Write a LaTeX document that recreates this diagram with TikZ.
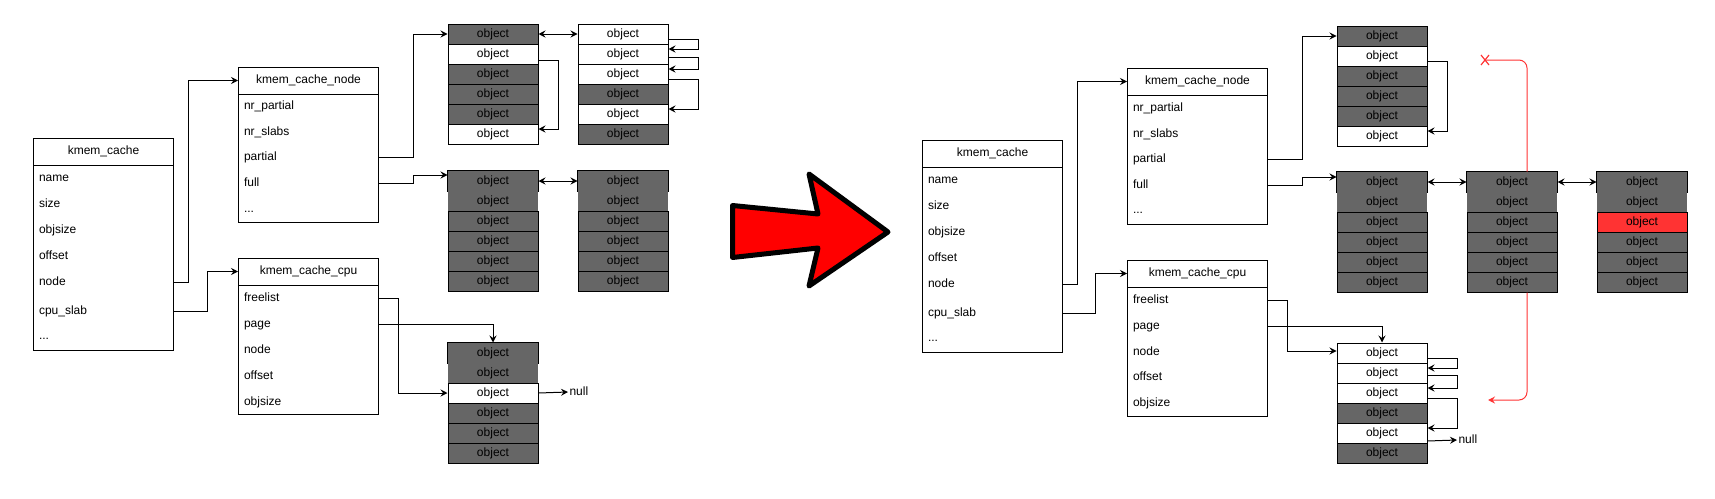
\documentclass[tikz,border=0pt]{standalone}
\usepackage{fontspec}
\setmainfont{Liberation Sans}
\usetikzlibrary{arrows.meta,calc}
\definecolor{dk}{HTML}{666666}
\definecolor{wt}{HTML}{FFFFFF}
\definecolor{rd}{HTML}{FF3333}
\definecolor{bigred}{HTML}{FF0000}

\newcommand{\kstruct}[5]{%
  \node[frame, minimum height=#4] (#1) at (#2,#3) {};
  \node[hdr, anchor=north west] (#1-h) at (#2,#3) {#5};
  \draw (#1-h.south west) -- (#1-h.south east);
}
\newcommand{\slabcol}[5]{%
  \ifnum#5=1 \tikzset{topcell/.style={cellnb}}\else\tikzset{topcell/.style={cell}}\fi
  \foreach \col [count=\i] in {#4} {
    \ifnum\i<3 \tikzset{cur/.style={topcell}}\else\tikzset{cur/.style={cell}}\fi
    \node[cur, fill=\col] (#1-\i) at (#2,{#3+10+(\i-1)*20}) {object};
  }
  \ifnum#5=1 \draw (#1-1.south west) |- (#1-1.north east) -- (#1-1.south east);\fi
}

\begin{document}
\begin{tikzpicture}[x=1pt,y=-1pt, line width=1pt, font=\fontsize{12}{14}\selectfont,
 hdr/.style={minimum width=140pt, minimum height=26pt, inner sep=0pt, text height=9pt, text depth=3pt},
 frame/.style={draw, anchor=north west, minimum width=140pt, inner sep=0pt},
 fld/.style={text width=128pt, inner xsep=6pt, inner ysep=0pt, align=left, text height=9pt, text depth=3pt},
 cell/.style={draw, minimum width=90pt, minimum height=20pt, inner sep=0pt, text height=9pt, text depth=3pt},
 cellnb/.style={minimum width=90pt, minimum height=20pt, inner sep=0pt, text height=9pt, text depth=3pt},
 nulltxt/.style={anchor=west, inner sep=1pt, text height=9pt, text depth=3pt},
 arr/.style={-{Stealth[length=7pt,width=7pt,inset=2.5pt]}},
 darr/.style={{Stealth[length=7pt,width=7pt,inset=2.5pt]}-{Stealth[length=7pt,width=7pt,inset=2.5pt]}},
 redln/.style={draw=rd, line width=1pt, rounded corners=8pt},
]
\useasboundingbox (0,0) rectangle (1715,498);

%================ LEFT DIAGRAM ================
\kstruct{kc}{33}{138}{212pt}{kmem\_cache}
\node[fld] (kc-name) at (103,178) {name};
\node[fld] (kc-size) at (103,204) {size};
\node[fld] (kc-objsize) at (103,230) {objsize};
\node[fld] (kc-offset) at (103,256) {offset};
\node[fld] (kc-node) at (103,282) {node};
\node[fld] (kc-cpu) at (103,311) {cpu\_slab};
\node[fld] (kc-dots) at (103,336) {...};

\kstruct{kcn}{238}{67}{155pt}{kmem\_cache\_node}
\node[fld] (kcn-nrpartial) at (308,106) {nr\_partial};
\node[fld] (kcn-nrslabs) at (308,132) {nr\_slabs};
\node[fld] (kcn-partial) at (308,157) {partial};
\node[fld] (kcn-full) at (308,183) {full};
\node[fld] (kcn-dots) at (308,209) {...};

\kstruct{kcc}{238}{258}{156pt}{kmem\_cache\_cpu}
\node[fld] (kcc-freelist) at (308,298) {freelist};
\node[fld] (kcc-page) at (308,324) {page};
\node[fld] (kcc-node) at (308,350) {node};
\node[fld] (kcc-offset) at (308,376) {offset};
\node[fld] (kcc-objsize) at (308,402) {objsize};

\slabcol{lp1}{493}{24}{dk,wt,dk,dk,dk,wt}{0}
\slabcol{lp2}{623}{24}{wt,wt,wt,dk,wt,dk}{0}
\slabcol{lf1}{493}{171}{dk,dk,dk,dk,dk,dk}{1}
\slabcol{lf2}{623}{171}{dk,dk,dk,dk,dk,dk}{1}
\slabcol{lc}{493}{343}{dk,dk,wt,dk,dk,dk}{1}
\node[nulltxt] (null1) at (568,392) {null};

\draw[arr] (kc-node.east) -- ++(15,0) |- (kcn-h.west);
\draw[arr] (kc-cpu.east) -- ++(34,0) |- (kcc-h.west);
\draw[arr] (kcn-partial.east) -- ++(35,0) |- (lp1-1.west);
\draw[arr] (kcn-full.east) -- ++(35,0) |- ($(lf1-1.west)+(0,-6)$);
\draw[darr] (lp1-1) -- (lp2-1);
\draw[darr] (lf1-1) -- (lf2-1);
\draw[arr] ($(lp1-2.east)+(0,6)$) -- ++(20,0) |- ($(lp1-6.east)+(0,-5)$);
\draw[arr] ($(lp2-1.east)+(0,5)$) -- ++(30,0) |- ($(lp2-2.east)+(0,-5)$);
\draw[arr] ($(lp2-2.east)+(0,3)$) -- ++(30,0) |- ($(lp2-3.east)+(0,-5)$);
\draw[arr] ($(lp2-3.east)+(0,5)$) -- ++(30,0) |- ($(lp2-5.east)+(0,-5)$);
\draw[arr] (kcc-freelist.east) -- ++(20,0) |- (lc-3.west);
\draw[arr] (kcc-page.east) -| (lc-1.north);
\draw[arr] (lc-3.east) -- (null1.west);

%================ BIG ARROW ================
\filldraw[fill=bigred, draw=black, line width=5pt, line join=round]
  (732.5,205.5) -- (818,214) -- (809,174) -- (888,232) -- (809,286) -- (818,248) -- (732.5,257.5) -- cycle;

%================ RIGHT DIAGRAM ================
\kstruct{rkc}{922}{140}{212pt}{kmem\_cache}
\node[fld] (rkc-name) at (992,180) {name};
\node[fld] (rkc-size) at (992,206) {size};
\node[fld] (rkc-objsize) at (992,232) {objsize};
\node[fld] (rkc-offset) at (992,258) {offset};
\node[fld] (rkc-node) at (992,284) {node};
\node[fld] (rkc-cpu) at (992,313) {cpu\_slab};
\node[fld] (rkc-dots) at (992,338) {...};

\kstruct{rkcn}{1127}{68}{156pt}{kmem\_cache\_node}
\node[fld] (rkcn-nrpartial) at (1197,108) {nr\_partial};
\node[fld] (rkcn-nrslabs) at (1197,134) {nr\_slabs};
\node[fld] (rkcn-partial) at (1197,159) {partial};
\node[fld] (rkcn-full) at (1197,185) {full};
\node[fld] (rkcn-dots) at (1197,210) {...};

\kstruct{rkcc}{1127}{260}{156pt}{kmem\_cache\_cpu}
\node[fld] (rkcc-freelist) at (1197,300) {freelist};
\node[fld] (rkcc-page) at (1197,326) {page};
\node[fld] (rkcc-node) at (1197,352) {node};
\node[fld] (rkcc-offset) at (1197,377) {offset};
\node[fld] (rkcc-objsize) at (1197,403) {objsize};

\slabcol{rp}{1382}{26}{dk,wt,dk,dk,dk,wt}{0}
\slabcol{rf1}{1382}{172}{dk,dk,dk,dk,dk,dk}{1}
\slabcol{rf2}{1512}{172}{dk,dk,dk,dk,dk,dk}{1}
\slabcol{rf3}{1642}{172}{dk,dk,rd,dk,dk,dk}{1}
\slabcol{rc}{1382}{343}{wt,wt,wt,dk,wt,dk}{0}
\node[nulltxt] (null2) at (1457,440) {null};

\draw[arr] (rkc-node.east) -- ++(15,0) |- (rkcn-h.west);
\draw[arr] (rkc-cpu.east) -- ++(33,0) |- (rkcc-h.west);
\draw[arr] (rkcn-partial.east) -- ++(35,0) |- (rp-1.west);
\draw[arr] (rkcn-full.east) -- ++(35,0) |- ($(rf1-1.west)+(0,-5)$);
\draw[arr] ($(rp-2.east)+(0,5)$) -- ++(20,0) |- ($(rp-6.east)+(0,-5)$);
\draw[darr] (rf1-1) -- (rf2-1);
\draw[darr] (rf2-1) -- (rf3-1);
\draw[arr] (rkcc-freelist.east) -- ++(20,0) |- ($(rc-1.west)+(0,-2)$);
\draw[arr] (rkcc-page.east) -| (rc-1.north);
\draw[arr] ($(rc-1.east)+(0,5)$) -- ++(30,0) |- ($(rc-2.east)+(0,-5)$);
\draw[arr] ($(rc-2.east)+(0,2)$) -- ++(30,0) |- ($(rc-3.east)+(0,-5)$);
\draw[arr] ($(rc-3.east)+(0,5)$) -- ++(30,0) |- ($(rc-5.east)+(0,-5)$);
\draw[arr] ($(rc-5.east)+(0,8)$) -- (null2.west);

% red path
\coordinate (xmark) at (1485,60);
\coordinate (redend) at (1488,400);
\draw[redln] ([xshift=15pt]rf2-1.north) |- (xmark);
\draw[draw=rd, line width=1.2pt] ($(xmark)+(-4,-5)$) -- ($(xmark)+(4,5)$) ($(xmark)+(-4,5)$) -- ($(xmark)+(4,-5)$);
\draw[redln, -{Stealth[length=7pt,width=7pt,inset=2.5pt]}] ([xshift=15pt]rf2-6.south) |- (redend);
\end{tikzpicture}
\end{document}
